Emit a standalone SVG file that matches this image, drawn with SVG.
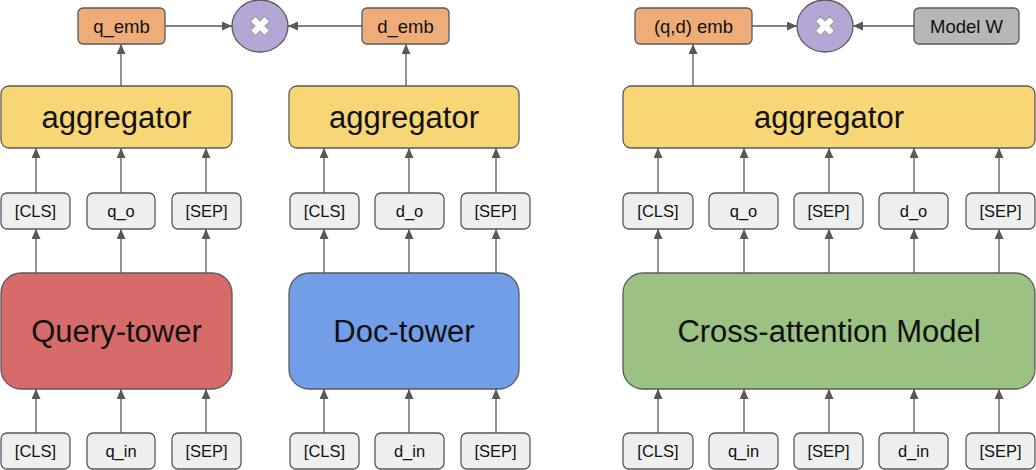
<svg xmlns="http://www.w3.org/2000/svg" width="1036" height="470" viewBox="0 0 1036 470">
<style>
.box{stroke:#595959;stroke-width:1.3}
.emb{fill:#eeac79}
.tok{fill:#efefef}
.agg{fill:#f8d675}
.op{fill:#b4a7d6}
.gray{fill:#b7b7b7}
.t{font-family:"Liberation Sans",Arial,sans-serif;fill:#111;text-anchor:middle;dominant-baseline:central}
.s{font-size:16.5px}
.m{font-size:18.5px}
.l{font-size:31px}
.c{stroke:#595959;stroke-width:1.3;fill:none;marker-end:url(#ah)}
.x{fill:#fff;stroke:#9a9a9a;stroke-width:1}
</style>
<defs>
<marker id="ah" markerUnits="userSpaceOnUse" markerWidth="10" markerHeight="10" refX="10" refY="4.5" orient="auto">
<path d="M0,0 L10,4.5 L0,9 z" fill="#595959"/>
</marker>
<path id="cross" d="M-3.5,-10 H3.5 V-3.5 H10 V3.5 H3.5 V10 H-3.5 V3.5 H-10 V-3.5 H-3.5 Z" transform="rotate(45)"/>
</defs>

<g id="connectors">
<line class="c" x1="165" y1="26" x2="232" y2="26"/>
<line class="c" x1="362" y1="26" x2="288" y2="26"/>
<line class="c" x1="121" y1="86" x2="121" y2="44"/>
<line class="c" x1="406" y1="86" x2="406" y2="44"/>
<line class="c" x1="752" y1="26" x2="797" y2="26"/>
<line class="c" x1="914" y1="26" x2="853" y2="26"/>
<line class="c" x1="693" y1="86" x2="693" y2="44"/>

<line class="c" x1="36" y1="193" x2="36" y2="148"/>
<line class="c" x1="121" y1="193" x2="121" y2="148"/>
<line class="c" x1="206" y1="193" x2="206" y2="148"/>
<line class="c" x1="324" y1="193" x2="324" y2="148"/>
<line class="c" x1="409" y1="193" x2="409" y2="148"/>
<line class="c" x1="496" y1="193" x2="496" y2="148"/>
<line class="c" x1="658" y1="193" x2="658" y2="148"/>
<line class="c" x1="744" y1="193" x2="744" y2="148"/>
<line class="c" x1="829" y1="193" x2="829" y2="148"/>
<line class="c" x1="914" y1="193" x2="914" y2="148"/>
<line class="c" x1="999" y1="193" x2="999" y2="148"/>

<line class="c" x1="36" y1="273" x2="36" y2="229"/>
<line class="c" x1="121" y1="273" x2="121" y2="229"/>
<line class="c" x1="206" y1="273" x2="206" y2="229"/>
<line class="c" x1="324" y1="273" x2="324" y2="229"/>
<line class="c" x1="409" y1="273" x2="409" y2="229"/>
<line class="c" x1="496" y1="273" x2="496" y2="229"/>
<line class="c" x1="658" y1="273" x2="658" y2="229"/>
<line class="c" x1="744" y1="273" x2="744" y2="229"/>
<line class="c" x1="829" y1="273" x2="829" y2="229"/>
<line class="c" x1="914" y1="273" x2="914" y2="229"/>
<line class="c" x1="999" y1="273" x2="999" y2="229"/>

<line class="c" x1="36" y1="433" x2="36" y2="389"/>
<line class="c" x1="121" y1="433" x2="121" y2="389"/>
<line class="c" x1="206" y1="433" x2="206" y2="389"/>
<line class="c" x1="324" y1="433" x2="324" y2="389"/>
<line class="c" x1="409" y1="433" x2="409" y2="389"/>
<line class="c" x1="496" y1="433" x2="496" y2="389"/>
<line class="c" x1="658" y1="433" x2="658" y2="389"/>
<line class="c" x1="744" y1="433" x2="744" y2="389"/>
<line class="c" x1="829" y1="433" x2="829" y2="389"/>
<line class="c" x1="914" y1="433" x2="914" y2="389"/>
<line class="c" x1="999" y1="433" x2="999" y2="389"/>
</g>

<!-- top row -->
<g id="q_emb"><rect class="box emb" x="78" y="8" width="87" height="36" rx="5"/><text class="t m" x="121.5" y="26">q_emb</text></g>
<g id="mult1"><ellipse class="box op" cx="260" cy="26" rx="28" ry="26"/><use href="#cross" class="x" x="260" y="26"/></g>
<g id="d_emb"><rect class="box emb" x="362" y="8" width="87" height="36" rx="5"/><text class="t m" x="405.5" y="26">d_emb</text></g>
<g id="qd_emb"><rect class="box emb" x="635" y="8" width="117" height="36" rx="5"/><text class="t m" x="693.5" y="26">(q,d) emb</text></g>
<g id="mult2"><ellipse class="box op" cx="825" cy="26" rx="28" ry="26"/><use href="#cross" class="x" x="825" y="26"/></g>
<g id="model_w"><rect class="box gray" x="914" y="8" width="105" height="36" rx="5"/><text class="t m" x="966.5" y="26">Model W</text></g>

<!-- aggregators -->
<g id="agg1"><rect class="box agg" x="1" y="86" width="231" height="62" rx="8"/><text class="t l" x="116.5" y="117">aggregator</text></g>
<g id="agg2"><rect class="box agg" x="289" y="86" width="230" height="62" rx="8"/><text class="t l" x="404" y="117">aggregator</text></g>
<g id="agg3"><rect class="box agg" x="623" y="86" width="412" height="62" rx="8"/><text class="t l" x="829" y="117">aggregator</text></g>

<!-- output tokens -->
<g id="o_cls1"><rect class="box tok" x="1" y="193" width="69" height="36" rx="6"/><text class="t s" x="35.5" y="211">[CLS]</text></g>
<g id="o_q1"><rect class="box tok" x="87" y="193" width="68" height="36" rx="6"/><text class="t s" x="121" y="211">q_o</text></g>
<g id="o_sep1"><rect class="box tok" x="172" y="193" width="69" height="36" rx="6"/><text class="t s" x="206.5" y="211">[SEP]</text></g>
<g id="o_cls2"><rect class="box tok" x="290" y="193" width="69" height="36" rx="6"/><text class="t s" x="324.5" y="211">[CLS]</text></g>
<g id="o_d2"><rect class="box tok" x="375" y="193" width="69" height="36" rx="6"/><text class="t s" x="409.5" y="211">d_o</text></g>
<g id="o_sep2"><rect class="box tok" x="461" y="193" width="69" height="36" rx="6"/><text class="t s" x="495.5" y="211">[SEP]</text></g>
<g id="o_cls3"><rect class="box tok" x="623" y="193" width="70" height="36" rx="6"/><text class="t s" x="658" y="211">[CLS]</text></g>
<g id="o_q3"><rect class="box tok" x="709" y="193" width="69" height="36" rx="6"/><text class="t s" x="743.5" y="211">q_o</text></g>
<g id="o_sep3"><rect class="box tok" x="794" y="193" width="69" height="36" rx="6"/><text class="t s" x="828.5" y="211">[SEP]</text></g>
<g id="o_d3"><rect class="box tok" x="879" y="193" width="69" height="36" rx="6"/><text class="t s" x="913.5" y="211">d_o</text></g>
<g id="o_sep3b"><rect class="box tok" x="966" y="193" width="69" height="36" rx="6"/><text class="t s" x="1000.5" y="211">[SEP]</text></g>

<!-- towers -->
<g id="query_tower"><rect class="box" fill="#d66b69" x="1" y="273" width="231" height="116" rx="20"/><text class="t l" x="116.5" y="331">Query-tower</text></g>
<g id="doc_tower"><rect class="box" fill="#719ee6" x="289" y="273" width="230" height="116" rx="20"/><text class="t l" x="404" y="331">Doc-tower</text></g>
<g id="cross_model"><rect class="box" fill="#9bc283" x="623" y="273" width="412" height="116" rx="20"/><text class="t l" x="829" y="331">Cross-attention Model</text></g>

<!-- input tokens -->
<g id="i_cls1"><rect class="box tok" x="1" y="433" width="69" height="36" rx="6"/><text class="t s" x="35.5" y="451">[CLS]</text></g>
<g id="i_q1"><rect class="box tok" x="87" y="433" width="68" height="36" rx="6"/><text class="t s" x="121" y="451">q_in</text></g>
<g id="i_sep1"><rect class="box tok" x="172" y="433" width="69" height="36" rx="6"/><text class="t s" x="206.5" y="451">[SEP]</text></g>
<g id="i_cls2"><rect class="box tok" x="290" y="433" width="69" height="36" rx="6"/><text class="t s" x="324.5" y="451">[CLS]</text></g>
<g id="i_d2"><rect class="box tok" x="375" y="433" width="69" height="36" rx="6"/><text class="t s" x="409.5" y="451">d_in</text></g>
<g id="i_sep2"><rect class="box tok" x="461" y="433" width="69" height="36" rx="6"/><text class="t s" x="495.5" y="451">[SEP]</text></g>
<g id="i_cls3"><rect class="box tok" x="623" y="433" width="70" height="36" rx="6"/><text class="t s" x="658" y="451">[CLS]</text></g>
<g id="i_q3"><rect class="box tok" x="709" y="433" width="69" height="36" rx="6"/><text class="t s" x="743.5" y="451">q_in</text></g>
<g id="i_sep3"><rect class="box tok" x="794" y="433" width="69" height="36" rx="6"/><text class="t s" x="828.5" y="451">[SEP]</text></g>
<g id="i_d3"><rect class="box tok" x="879" y="433" width="69" height="36" rx="6"/><text class="t s" x="913.5" y="451">d_in</text></g>
<g id="i_sep3b"><rect class="box tok" x="966" y="433" width="69" height="36" rx="6"/><text class="t s" x="1000.5" y="451">[SEP]</text></g>
</svg>
